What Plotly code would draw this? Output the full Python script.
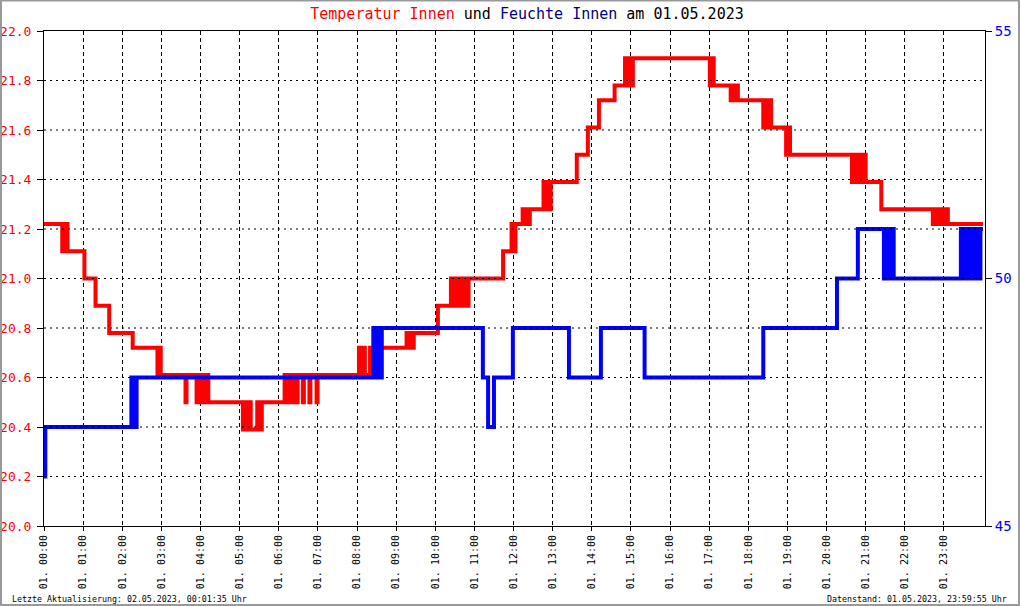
import pandas as pd
import plotly.graph_objects as go

# ── Data: minutes after midnight on 01.05.2023 and the measured values ────────
DAY = "2023-05-01"

TEMP_MIN = [
    0, 28, 30, 32, 34, 36, 62, 79, 100, 136,
    174, 176, 179, 217, 218.5,
    234, 237, 240, 243, 246, 249, 252, 255,
    305, 308, 311, 314, 317, 327, 330, 334, 337,
    369, 372, 375, 378, 381, 384, 389, 397, 398.5, 407, 408.5, 418, 419.5,
    483, 485, 490, 492, 500, 502, 505, 507, 510,
    556, 560, 563, 566, 567,
    604, 624, 625, 631, 632, 638, 639, 644, 645, 651,
    704, 717, 720, 723, 734, 737, 740, 743, 745,
    766, 769, 772, 775, 777,
    817, 834, 851, 875, 891, 893, 897, 900, 903, 908,
    1021, 1024, 1027, 1032, 1053, 1058, 1064,
    1103, 1106, 1109, 1112, 1115, 1120, 1138, 1141, 1144, 1147,
    1239, 1242, 1245, 1248, 1251, 1256, 1260, 1284, 1296,
    1363, 1366, 1369, 1374, 1377, 1382, 1386, 1439.9,
]
TEMP_VAL = [
    21.22, 21.11, 21.22, 21.11, 21.22, 21.11, 21.00, 20.89, 20.78, 20.72,
    20.61, 20.72, 20.61, 20.50, 20.61,
    20.50, 20.61, 20.50, 20.61, 20.50, 20.61, 20.50, 20.50,
    20.39, 20.50, 20.39, 20.50, 20.39, 20.50, 20.39, 20.50, 20.50,
    20.61, 20.50, 20.61, 20.50, 20.61, 20.50, 20.61, 20.50, 20.61, 20.50, 20.61, 20.50, 20.61,
    20.72, 20.61, 20.72, 20.61, 20.72, 20.61, 20.72, 20.61, 20.72,
    20.78, 20.72, 20.78, 20.72, 20.78,
    20.89, 21.00, 20.89, 21.00, 20.89, 21.00, 20.89, 21.00, 20.89, 21.00,
    21.11, 21.22, 21.11, 21.22, 21.28, 21.22, 21.28, 21.22, 21.28,
    21.39, 21.28, 21.39, 21.28, 21.39,
    21.50, 21.61, 21.72, 21.78, 21.89, 21.78, 21.89, 21.78, 21.89, 21.89,
    21.78, 21.89, 21.78, 21.78, 21.72, 21.78, 21.72,
    21.61, 21.72, 21.61, 21.72, 21.61, 21.61, 21.50, 21.61, 21.50, 21.50,
    21.39, 21.50, 21.39, 21.50, 21.39, 21.50, 21.39, 21.28, 21.28,
    21.22, 21.28, 21.22, 21.28, 21.22, 21.28, 21.22, 21.22,
]

HUM_MIN = [
    0, 2, 134, 136, 137, 139, 142,
    505, 508, 511, 515, 518,
    673, 681, 690, 719, 805, 854, 921, 1103, 1216, 1248,
    1288, 1291, 1296, 1298, 1301, 1302, 1303,
    1406, 1409, 1412, 1415, 1418, 1421, 1424, 1427, 1430, 1433, 1436, 1439.9,
]
HUM_VAL = [
    46, 47, 48, 47, 48, 47, 48,
    49, 48, 49, 48, 49,
    48, 47, 48, 49, 48, 49, 48, 49, 50, 51,
    50, 51, 50, 51, 50, 51, 50,
    51, 50, 51, 50, 51, 50, 51, 50, 51, 50, 51, 51,
]

TEMP_TICKS = [20.0, 20.2, 20.4, 20.6, 20.8, 21.0, 21.2, 21.4, 21.6, 21.8, 22.0]
HUM_TICKS = [45, 50, 55]
HOURS = list(range(24))

FONT = "DejaVu Sans Mono"

start = pd.Timestamp(DAY)
t_temp = start + pd.to_timedelta(TEMP_MIN, unit="m")
t_hum = start + pd.to_timedelta(HUM_MIN, unit="m")
hour_ticks = [start + pd.Timedelta(hours=h) for h in HOURS]

fig = go.Figure()
fig.add_trace(go.Scatter(
    x=t_hum, y=HUM_VAL, yaxis="y2", mode="lines", line_shape="hv",
    line=dict(color="#0000FF", width=4), name="Feuchte Innen",
))
fig.add_trace(go.Scatter(
    x=t_temp, y=TEMP_VAL, mode="lines", line_shape="hv",
    line=dict(color="#FF0000", width=4), name="Temperatur Innen",
))

# horizontal dotted grid sits on top of the curves
for v in TEMP_TICKS[1:-1]:
    fig.add_shape(type="line", xref="paper", x0=0, x1=1, yref="y", y0=v, y1=v,
                  line=dict(color="black", width=1, dash="2px,4px"), layer="above")

# grey frame round the whole picture
fig.add_shape(type="rect", xref="paper", yref="paper",
              x0=-43 / 941, x1=(1019 - 44) / 941, y0=-79 / 495, y1=(526 - 0.5) / 495,
              line=dict(color="#999999", width=2), layer="above")

fig.update_layout(
    width=1020, height=606,
    margin=dict(l=44, r=35, t=31, b=80),
    paper_bgcolor="white", plot_bgcolor="white",
    showlegend=False,
    font=dict(family=FONT, color="black"),
    title=dict(
        text=("<span style='color:#FF0000'>Temperatur Innen</span> und "
              "<span style='color:#000080'>Feuchte Innen</span> am 01.05.2023"),
        x=527 / 1020, xanchor="center", y=1 - 14 / 606, yanchor="middle",
        font=dict(family=FONT, size=15, color="black"),
    ),
    xaxis=dict(
        range=[start, start + pd.Timedelta(minutes=1443)],
        tickvals=hour_ticks, tickformat="%d. %H:%M", tickangle=-90,
        tickfont=dict(family=FONT, size=10, color="black"),
        ticks="outside", ticklen=4, tickcolor="black",
        showgrid=True, gridcolor="black", gridwidth=1, griddash="4px,3px",
        showline=True, linecolor="black", linewidth=1, mirror=True,
        zeroline=False, automargin=False,
    ),
    yaxis=dict(
        range=[20.0, 22.0], tickvals=TEMP_TICKS, tickformat=".1f",
        tickfont=dict(family=FONT, size=13, color="#FF0000"),
        ticks="outside", ticklen=6, tickcolor="black", ticklabelstandoff=3,
        showgrid=False, showline=True, linecolor="black", linewidth=1,
        zeroline=False, automargin=False,
    ),
    yaxis2=dict(
        range=[45, 55], tickvals=HUM_TICKS, overlaying="y", side="right",
        tickfont=dict(family=FONT, size=14, color="#0000FF"),
        ticks="outside", ticklen=6, tickcolor="black",
        showgrid=False, showline=True, linecolor="black", linewidth=1,
        zeroline=False, automargin=False,
    ),
    annotations=[
        dict(text="Letzte Aktualisierung: 02.05.2023, 00:01:35 Uhr",
             xref="paper", yref="paper", x=(10 - 44) / 941, y=-73 / 495,
             xanchor="left", yanchor="middle", showarrow=False,
             font=dict(family=FONT, size=8.3, color="black")),
        dict(text="Datenstand: 01.05.2023, 23:59:55 Uhr",
             xref="paper", yref="paper", x=(1009 - 44) / 941, y=-73 / 495,
             xanchor="right", yanchor="middle", showarrow=False,
             font=dict(family=FONT, size=8.3, color="black")),
    ],
)

# page body has a default 8px margin; drop it so the figure fills the window
fig.write_html("out.html", config={"displayModeBar": False},
               post_script="document.body.style.margin='0';")
